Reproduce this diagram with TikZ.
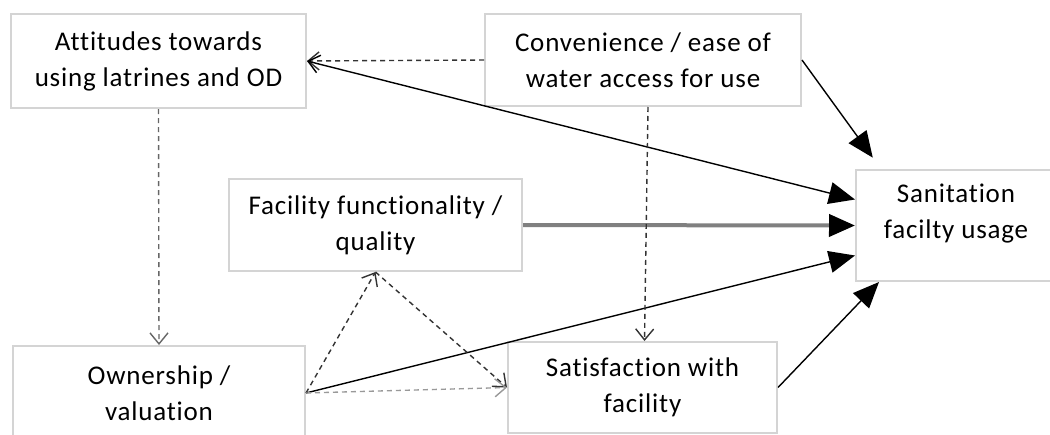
\documentclass[tikz,border=0pt]{standalone}
\usepackage{fontspec}
\setmainfont{Carlito}[Ligatures=NoCommon, LetterSpace=3]
\usetikzlibrary{arrows.meta,calc}
\definecolor{boxgray}{RGB}{212,212,212}
\tikzset{
  box/.style={draw=boxgray, line width=2pt, fill=white, align=center,
    inner sep=0pt, font=\fontsize{27}{36}\selectfont},
  dlink/.style={draw=black!80, dash pattern=on 5pt off 4pt, line width=1.4pt,
    -{Straight Barb[length=11pt,width=18pt]}},
  slink/.style={line width=1.4pt, -{Triangle[length=26pt,width=22pt]}},
}
\begin{document}
\begin{tikzpicture}[x=1pt,y=-1pt]
    \useasboundingbox (0,0) rectangle (1050,434);
    \node[box, minimum width=295pt, minimum height=94pt] (att) at (158.5,61) {Attitudes towards\\using latrines and OD};
    \node[box, minimum width=316pt, minimum height=92pt] (conv) at (643,60) {Convenience / ease of\\water access for use};
    \node[box, minimum width=200pt, minimum height=111pt, text depth=28pt] (san) at (956,225.5) {Sanitation\\facilty usage};
    \node[box, minimum width=293pt, minimum height=92pt] (fac) at (375.5,225) {Facility functionality /\\quality};
    \node[box, minimum width=292pt, minimum height=94pt] (own) at (159,393) {Ownership /\\valuation};
    \node[box, minimum width=269pt, minimum height=91pt] (sat) at (642.5,387.5) {Satisfaction with\\facility};

    \draw[dlink] (conv.west) -- (att.east);
    \draw[line width=1.4pt, {Straight Barb[length=11pt,width=18pt]}-{Triangle[length=26pt,width=22pt]}] (att.east) -- ([yshift=26pt]san.west);
    \draw[slink, shorten >=14pt] (conv.east) -- ($(san.north west)+(26,0)$);
    \draw[slink, draw=gray, line width=4pt, -{Triangle[length=26pt,width=22pt,color=black]}] (fac.east) -- (san.west);
    \draw[slink] (own.east) -- ([yshift=-30pt]san.west);
    \draw[slink] (sat.east) -- ($(san.south west)+(24,0)$);
    \draw[dlink, draw=black!60] (att.south) -- (own.north);
    \draw[dlink] ([xshift=5pt]conv.south) -- ([xshift=2pt]sat.north);
    \draw[dlink] (own.east) -- (fac.south);
    \draw[dlink] (fac.south) -- (sat.west);
    \draw[dlink, draw=black!40] (own.east) -- (sat.west);
\end{tikzpicture}
\end{document}
